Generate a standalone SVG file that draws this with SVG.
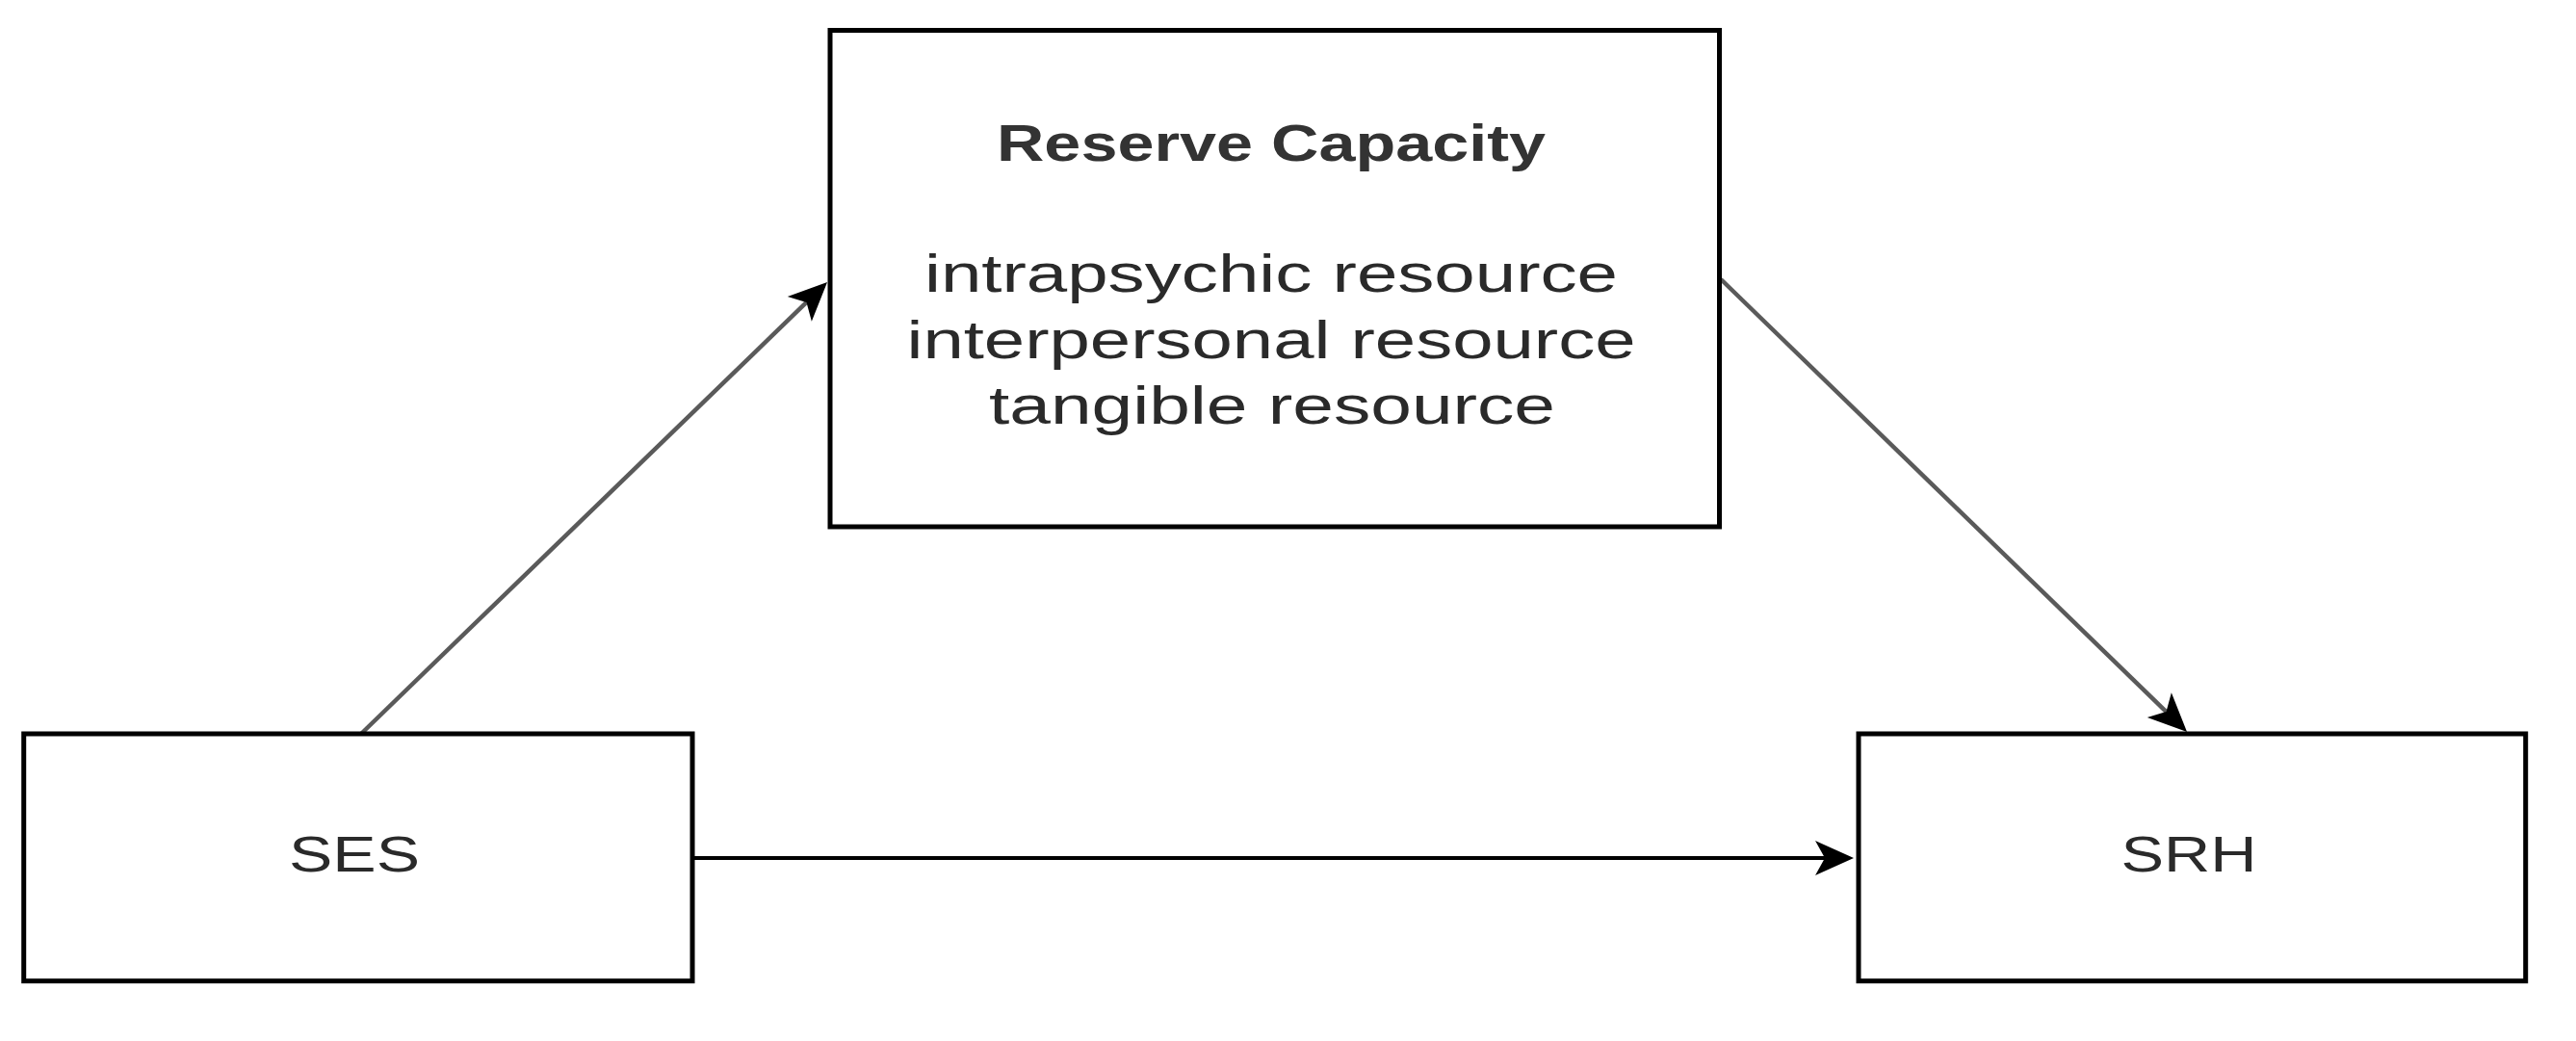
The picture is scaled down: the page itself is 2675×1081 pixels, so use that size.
<svg xmlns="http://www.w3.org/2000/svg" width="2675" height="1081" viewBox="0 0 2675 1081">
  <style>
    .box { fill: #ffffff; stroke: #000000; stroke-width: 5; }
    .lbl { font-family: "Liberation Sans", Arial, sans-serif; fill: #2a2a2a; text-anchor: middle; }
    .title { font-weight: bold; font-size: 54px; fill: #333333; }
    .body { font-size: 55px; }
    .small { font-size: 52px; }
    .edge { fill: none; }
    .diag { stroke: #5a5a5a; stroke-width: 4.5; }
    .horiz { stroke: #000000; stroke-width: 4; }
  </style>
  <defs>
    <marker id="arrow" markerUnits="userSpaceOnUse" viewBox="-45 -25 50 50" markerWidth="50" markerHeight="50" refX="-30" refY="0" orient="auto">
      <path d="M -40 -18 L 0 0 L -40 18 L -30 0 Z" fill="#000000"/>
    </marker>
  </defs>
  <rect x="0" y="0" width="2675" height="1081" fill="#ffffff"/>

  <g id="connectors">
    <line id="ses-to-reserve" class="edge diag" x1="375" y1="762" x2="837.5" y2="313.9" marker-end="url(#arrow)"/>
    <line id="reserve-to-srh" class="edge diag" x1="1787" y1="290" x2="2249.5" y2="739.1" marker-end="url(#arrow)"/>
    <line id="ses-to-srh" class="edge horiz" x1="719" y1="891" x2="1895" y2="891" marker-end="url(#arrow)"/>
  </g>

  <g id="node-reserve">
    <rect class="box" x="862" y="31.5" width="923.5" height="515.5"/>
    <text class="lbl title" x="1320" y="167" textLength="570" lengthAdjust="spacingAndGlyphs">Reserve Capacity</text>
    <text class="lbl body" x="1320" y="303" textLength="720" lengthAdjust="spacingAndGlyphs">intrapsychic resource</text>
    <text class="lbl body" x="1320" y="372" textLength="757" lengthAdjust="spacingAndGlyphs">interpersonal resource</text>
    <text class="lbl body" x="1321" y="440" textLength="588" lengthAdjust="spacingAndGlyphs">tangible resource</text>
  </g>

  <g id="node-ses">
    <rect class="box" x="24.7" y="762" width="694.3" height="256.7"/>
    <text class="lbl small" x="368" y="905" textLength="136" lengthAdjust="spacingAndGlyphs">SES</text>
  </g>

  <g id="node-srh">
    <rect class="box" x="1930" y="762" width="692.7" height="256.7"/>
    <text class="lbl small" x="2273" y="905" textLength="141" lengthAdjust="spacingAndGlyphs">SRH</text>
  </g>
</svg>
